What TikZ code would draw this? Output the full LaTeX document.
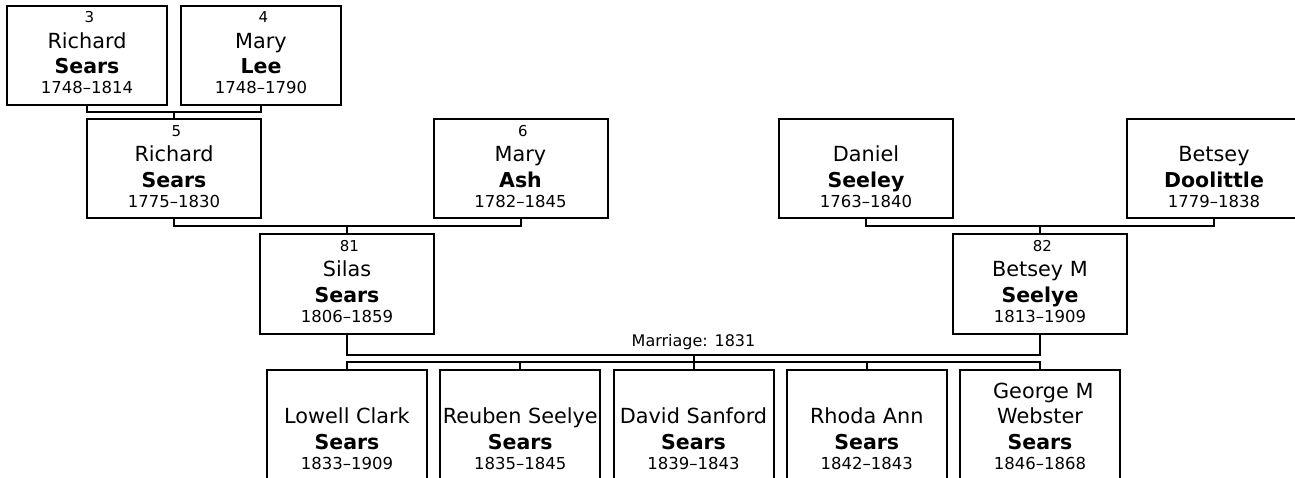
\documentclass[tikz,border=0pt]{standalone}
\usepackage{fontspec}
\setmainfont{DejaVu Sans}
\usepackage{tikz}
\newcommand{\tagfont}{\fontsize{15}{18}\selectfont}
\newcommand{\givenfont}{\fontsize{20.8}{25.5}\selectfont}
\newcommand{\kinfont}{\fontsize{20.5}{25.5}\selectfont\bfseries}
\newcommand{\yearsfont}{\fontsize{16.5}{20}\selectfont}
\newcommand{\person}[5][\tagfont]{%
  \begin{tabular}[t]{@{}c@{}}
    {#1 #2}\\
    {\givenfont #3}\\
    {\kinfont #4}\\[-5.5pt]
    {\yearsfont #5}
  \end{tabular}%
}

\begin{document}
\begin{tikzpicture}[
    x=1pt, y=-1pt,
    personbox/.style={
      draw,
      line width=2pt,
      outer sep=0pt,
      inner sep=0pt,
      minimum width=160pt,
      text height=16.7pt,
      text depth=82.3pt,
      anchor=north,
      font=\givenfont
    },
    midbox/.style={personbox, minimum width=174pt},
    kidbox/.style={personbox, text height=28pt, text depth=83pt},
    link/.style={line width=2pt, line join=miter}
  ]
  \useasboundingbox[fill=white] (0,0) rectangle (1295,478);
  \node[personbox] (p3) at (87,6) {\person{3}{Richard}{Sears}{1748--1814}};
  \node[personbox] (p4) at (261,6) {\person{4}{Mary}{Lee}{1748--1790}};
  \node[midbox] (p5) at (174,119.5) {\person{5}{Richard}{Sears}{1775--1830}};
  \node[midbox] (p6) at (520.5,119.5) {\person{6}{Mary}{Ash}{1782--1845}};
  \node[midbox] (daniel) at (866,119.5) {\person{}{Daniel}{Seeley}{1763--1840}};
  \node[midbox] (doolittle) at (1214,119.5) {\person{}{Betsey}{Doolittle}{1779--1838}};
  \node[midbox] (p81) at (347,234.5) {\person{81}{Silas}{Sears}{1806--1859}};
  \node[midbox] (p82) at (1040,234.5) {\person{82}{Betsey M}{Seelye}{1813--1909}};
  \node[kidbox] (c1) at (347,370) {\person[\givenfont]{}{Lowell Clark}{Sears}{1833--1909}};
  \node[kidbox] (c2) at (520.25,370) {\person[\givenfont]{}{Reuben Seelye}{Sears}{1835--1845}};
  \node[kidbox] (c3) at (693.5,370) {\person[\givenfont]{}{David Sanford}{Sears}{1839--1843}};
  \node[kidbox] (c4) at (866.75,370) {\person[\givenfont]{}{Rhoda Ann}{Sears}{1842--1843}};
  \node[kidbox] (c5) at (1040,370) {\person[\givenfont]{George M}{Webster}{Sears}{1846--1868}};

  \draw[link] (p3.south) -- ++(0,6.7) -| (p4.south);
  \draw[link] (p5.north) -- ++(0,-8);
  \draw[link] (p5.south) -- ++(0,7.7) -| (p6.south);
  \draw[link] (p81.north) -- ++(0,-8);
  \draw[link] (daniel.south) -- ++(0,7.5) -| (doolittle.south);
  \draw[link] (p82.north) -- ++(0,-8);
  \draw[link] (p81.south) -- ++(0,21) -| coordinate[pos=0.25] (wed)
    node[pos=0.25, above=6.7pt, inner sep=0pt, text depth=0pt,
      font=\fontsize{16}{19}\selectfont] (wedlabel) {Marriage: 1831} (p82.south);
  \draw[link] (wed) -- (c3.north);
  \draw[link] (c1.north) -- ++(0,-8) -| (c5.north);
  \foreach \k in {c2,c4} \draw[link] (\k.north) -- ++(0,-8);
\end{tikzpicture}
\end{document}
